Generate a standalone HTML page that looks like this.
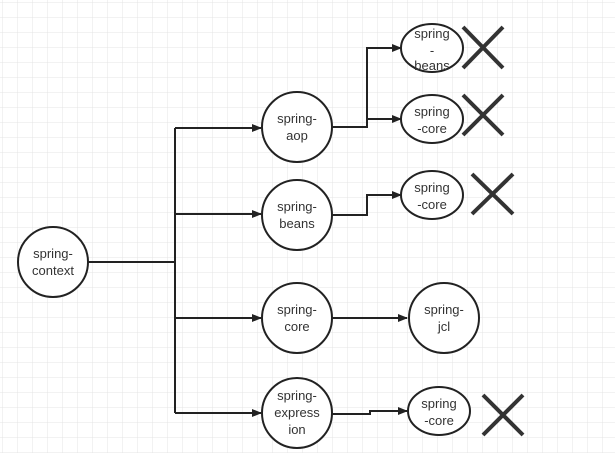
<!DOCTYPE html>
<html><head><style>
html,body{margin:0;padding:0;background:#fff;}
svg{display:block;}
text{font-family:"Liberation Sans","Noto Sans CJK SC",sans-serif;font-size:13px;fill:#333;text-anchor:middle;}
</style></head><body>
<svg width="615" height="453" viewBox="0 0 615 453" xmlns="http://www.w3.org/2000/svg">
<defs>
<pattern id="g" width="15" height="15" patternUnits="userSpaceOnUse" x="3" y="3">
<path d="M15 0V15H0" fill="none" stroke="#e4e4e4" stroke-width="1"/>
</pattern>
<marker id="a" markerWidth="10" markerHeight="8" refX="9" refY="4" orient="auto" markerUnits="userSpaceOnUse">
<path d="M0 0L10 4L0 8Z" fill="#222"/>
</marker>
</defs>
<rect width="615" height="453" fill="url(#g)"/>
<g fill="none" stroke="#222" stroke-width="2">
<path d="M88 262H175"/>
<path d="M175 128V413"/>
<path d="M175 128H261" marker-end="url(#a)"/>
<path d="M175 214H261" marker-end="url(#a)"/>
<path d="M175 318H261" marker-end="url(#a)"/>
<path d="M175 413H261" marker-end="url(#a)"/>
<path d="M332 127H367V48H401" marker-end="url(#a)"/>
<path d="M367 119H401" marker-end="url(#a)"/>
<path d="M332 215H367V195H401" marker-end="url(#a)"/>
<path d="M332 318H407" marker-end="url(#a)"/>
<path d="M332 414H370V411H407" marker-end="url(#a)"/>
</g>
<g fill="#fff" stroke="#222" stroke-width="2">
<circle cx="53" cy="262" r="35"/>
<circle cx="297" cy="127" r="35"/>
<circle cx="297" cy="215" r="35"/>
<circle cx="297" cy="318" r="35"/>
<circle cx="297" cy="413" r="35"/>
<ellipse cx="432" cy="48" rx="31" ry="24"/>
<ellipse cx="432" cy="119" rx="31" ry="24"/>
<ellipse cx="432" cy="195" rx="31" ry="24"/>
<circle cx="444" cy="318" r="35"/>
<ellipse cx="439" cy="411" rx="31" ry="24"/>
</g>
<g stroke="#333" stroke-width="4">
<path d="M463 27L503 68M503 27L463 68"/>
<path d="M463 95L503 135M503 95L463 135"/>
<path d="M472 174L513 214M513 174L472 214"/>
<path d="M483 395L523 435M523 395L483 435"/>
</g>
<text x="53" y="258">spring-</text><text x="53" y="275">context</text>
<text x="297" y="123">spring-</text><text x="297" y="140">aop</text>
<text x="297" y="211">spring-</text><text x="297" y="228">beans</text>
<text x="297" y="314">spring-</text><text x="297" y="331">core</text>
<text x="297" y="400">spring-</text><text x="297" y="417">express</text><text x="297" y="434">ion</text>
<text x="432" y="38">spring</text><text x="432" y="55">-</text><text x="432" y="70">beans</text>
<text x="432" y="116">spring</text><text x="432" y="133">-core</text>
<text x="432" y="192">spring</text><text x="432" y="209">-core</text>
<text x="444" y="314">spring-</text><text x="444" y="331">jcl</text>
<text x="439" y="408">spring</text><text x="439" y="425">-core</text>
</svg>
</body></html>
